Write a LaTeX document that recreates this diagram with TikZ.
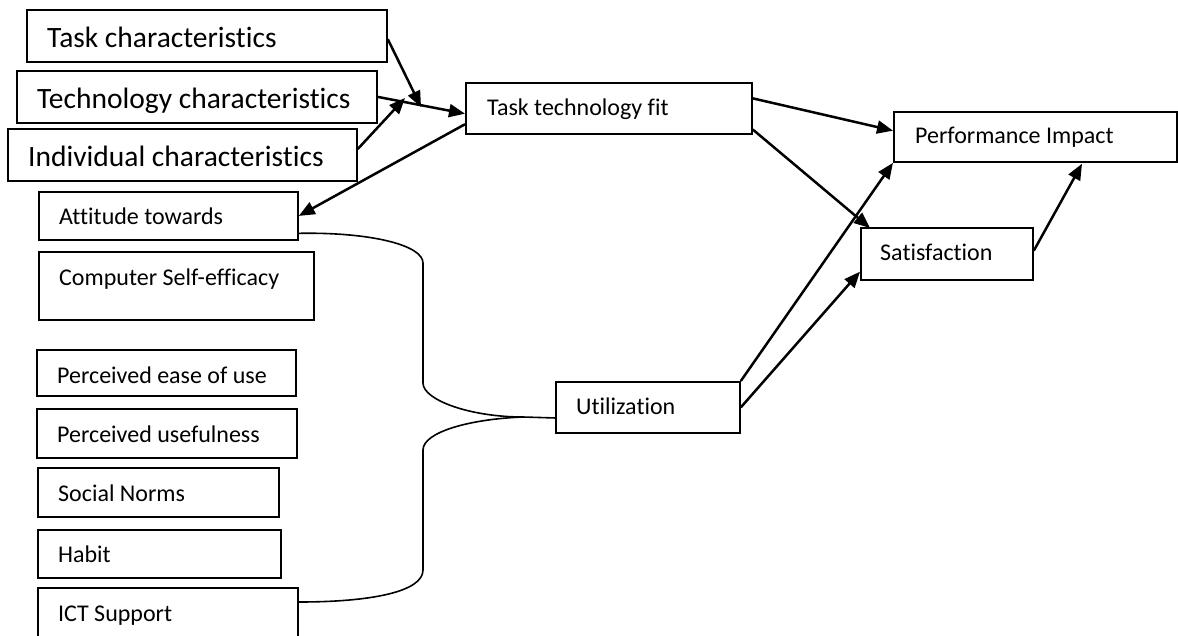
\documentclass[tikz,border=0pt]{standalone}
\usepackage{fontspec}
\setmainfont{Carlito}[Ligatures=NoCommon]
\usetikzlibrary{arrows.meta,calc}
\begin{document}
\begin{tikzpicture}[x=1pt,y=-1pt,
  box/.style={draw, line width=1.8pt, rectangle, inner sep=0pt, anchor=north west},
  lbl/.style={inner sep=0pt, anchor=base west, font=\fontsize{24}{28}\selectfont},
  biglbl/.style={inner sep=0pt, anchor=base west, font=\fontsize{29.5}{34}\selectfont},
  link/.style={line width=2.5pt, -{Triangle[length=16pt,width=13pt]}},
  brace/.style={line width=1.6pt}]
\clip (0,0) rectangle (1178,635);

% characteristics feeding task technology fit
\node[box, minimum width=360pt, minimum height=52pt] (task)  at (26,9)   {};
\node[box, minimum width=360pt, minimum height=52pt] (tech)  at (16,70)  {};
\node[box, minimum width=349pt, minimum height=52pt] (indiv) at (7,128)  {};
\node[biglbl] (task-t)  at (47,47)  {Task characteristics};
\node[biglbl] (tech-t)  at (37,108) {Technology characteristics};
\node[biglbl] (indiv-t) at (28,166) {Individual characteristics};

% utilization antecedents
\node[box, minimum width=259pt, minimum height=48pt] (att)   at (38,191) {};
\node[box, minimum width=275pt, minimum height=68pt] (cse)   at (38,251) {};
\node[box, minimum width=259pt, minimum height=46pt] (peou)  at (36,349) {};
\node[box, minimum width=260pt, minimum height=49pt] (pu)    at (36,408) {};
\node[box, minimum width=241pt, minimum height=49pt] (sn)    at (37,467) {};
\node[box, minimum width=243pt, minimum height=48pt] (habit) at (37,529) {};
\node[box, minimum width=260pt, minimum height=75pt] (ict)   at (37,587) {};
\node[lbl] (att-t)   at (59,224) {Attitude towards};
\node[lbl] (cse-t)   at (59,285) {Computer Self-efficacy};
\node[lbl] (peou-t)  at (57,383) {Perceived ease of use};
\node[lbl] (pu-t)    at (57,442) {Perceived usefulness};
\node[lbl] (sn-t)    at (58,501) {Social Norms};
\node[lbl] (habit-t) at (58,562) {Habit};
\node[lbl] (ict-t)   at (58,621) {ICT Support};

% core constructs
\node[box, minimum width=286pt, minimum height=51pt] (ttf)  at (465,82)  {};
\node[box, minimum width=184pt, minimum height=51pt] (util) at (555,381) {};
\node[box, minimum width=283pt, minimum height=50pt] (perf) at (893,111) {};
\node[box, minimum width=172pt, minimum height=52pt] (sat)  at (860,227) {};
\node[lbl] (ttf-t)  at (487,115) {Task technology fit};
\node[lbl] (util-t) at (576,414) {Utilization};
\node[lbl] (perf-t) at (915,143) {Performance Impact};
\node[lbl] (sat-t)  at (880,260) {Satisfaction};

% points where the characteristic arrows meet
\coordinate (j1) at (421,107);
\coordinate (j2) at (405,98);

% arrows
\draw[link] ($(task.north east)!0.56!(task.south east)$) -- (j1);
\draw[link] (tech.east) -- ($(ttf.north west)!0.6!(ttf.south west)$);
\draw[link] ($(indiv.north east)!0.39!(indiv.south east)$) -- (j2);
\draw[link] ($(ttf.north west)!0.8!(ttf.south west)$) -- (att.east);
\draw[link] ($(ttf.north east)!0.31!(ttf.south east)$) -- ($(perf.north west)!0.38!(perf.south west)$);
\draw[link] ($(ttf.north east)!0.9!(ttf.south east)$) -- ($(sat.north west)+(10,1)$);
\draw[link] (util.north east) -- (perf.south west);
\draw[link] (util.east) -- ($(sat.north west)!0.83!(sat.south west)$);
\draw[link] ($(sat.north east)!0.44!(sat.south east)$) -- ($(perf.south west)+(189,1)$);

% brace joining the antecedents to utilization
\coordinate (bm) at (523,417);
\draw[brace] ($(att.north east)!0.85!(att.south east)$)
  .. controls (370,232) and (423,245) .. (423,263)
  -- (423,383)
  .. controls (423,400) and (470,417) .. (bm)
  -- ($(util.north west)!0.7!(util.south west)$);
\draw[brace] (bm)
  .. controls (470,419) and (423,432) .. (423,450)
  -- (423,570)
  .. controls (423,592) and (370,602) .. ($(ict.north east)+(0,15)$);
\end{tikzpicture}
\end{document}
